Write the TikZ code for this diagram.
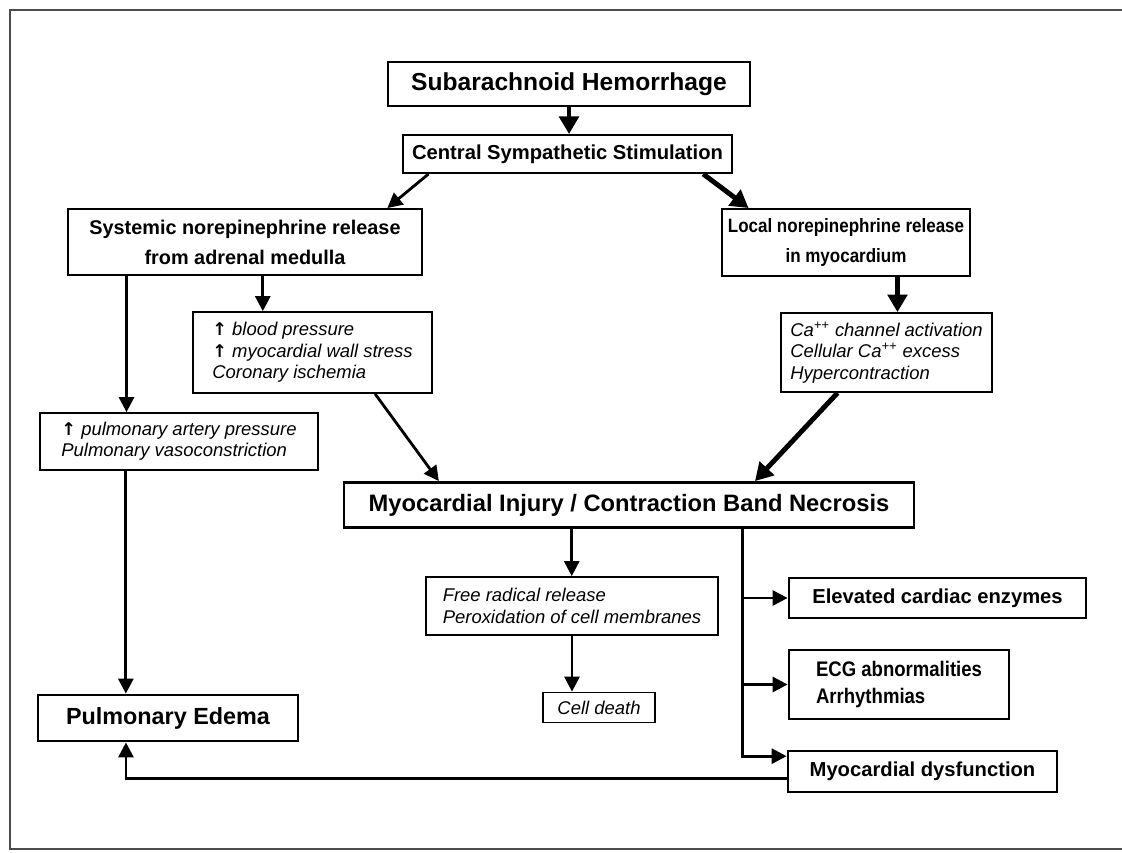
\documentclass[tikz,border=0pt]{standalone}
\usepackage{fontspec}
\setmainfont{Liberation Sans}
\newfontfamily\narrowsans{Liberation Sans}[FakeStretch=0.88]
\newfontfamily\arrowfont{DejaVu Sans}
\usepackage{tikz}
\usetikzlibrary{arrows.meta, positioning, calc}

\begin{document}
\begin{tikzpicture}[x=0.02cm, y=-0.02cm]
    % Define styles
    \tikzstyle{headbox} = [rectangle, draw, line width=1.6pt, inner sep=2pt, align=center, font=\bfseries\fontsize{13.5}{16}\selectfont]
    \tikzstyle{stepbox} = [rectangle, draw, line width=1.1pt, inner sep=2pt, align=center, font=\bfseries\fontsize{11.3}{17}\selectfont]
    \tikzstyle{effectbox} = [rectangle, draw, line width=1.6pt, inner sep=2pt, align=left, font=\bfseries\fontsize{11.5}{15}\selectfont]
    \tikzstyle{notebox} = [rectangle, draw, line width=1pt, inner sep=2pt, align=left, font=\itshape\fontsize{10.5}{12.2}\selectfont]
    \tikzstyle{arrow} = [-{Triangle[length=8.5pt, width=8.5pt]}, line width=1.6pt]
    \tikzstyle{bigarrow} = [-{Triangle[length=10pt, width=11pt]}, line width=2.8pt]
    \newcommand{\up}{{\arrowfont\upshape\bfseries\fontsize{10}{12}\selectfont ↑}}

    \useasboundingbox (0,0) rectangle (1122,852);
    \draw[black!70, line width=0.9pt] (1122,10) -- (10,10) -- (10,849) -- (1122,849);

    % Trigger
    \node[headbox, minimum width=7.24cm, minimum height=0.88cm, font=\bfseries\fontsize{14}{16}\selectfont] (sah) at (569, 84) {Subarachnoid Hemorrhage};
    \node[stepbox, minimum width=6.58cm, minimum height=0.76cm, font=\bfseries\fontsize{11.5}{14}\selectfont] (css) at (567.5, 154) {Central Sympathetic Stimulation};

    % Release
    \node[stepbox, minimum width=7.08cm, minimum height=1.32cm] (sys) at (245, 242) {Systemic norepinephrine release\\from adrenal medulla};
    \node[stepbox, minimum width=4.96cm, minimum height=1.34cm, font=\narrowsans\bfseries\fontsize{11}{17}\selectfont] (loc) at (846, 242.5) {Local norepinephrine release\\in myocardium};

    % Mechanisms
    \node[notebox, minimum width=4.78cm, minimum height=1.62cm] (bp) at (312.5, 352.5) {\up\ blood pressure\\\up\ myocardial wall stress\\Coronary ischemia};
    \node[notebox, minimum width=4.22cm, minimum height=1.58cm] (ca) at (886.5, 352.5) {Ca\textsuperscript{++} channel activation\\Cellular Ca\textsuperscript{++} excess\\Hypercontraction};
    \node[notebox, minimum width=5.56cm, minimum height=1.14cm] (pa) at (179, 441.5) {\up\ pulmonary artery pressure\\Pulmonary vasoconstriction};

    % Injury
    \node[headbox, minimum width=11.4cm, minimum height=0.9cm] (mi) at (629, 505) {Myocardial Injury / Contraction Band Necrosis};
    \node[notebox, minimum width=5.84cm, minimum height=1.16cm] (fr) at (572, 606) {Free radical release\\Peroxidation of cell membranes};
    \node[notebox, minimum width=2.24cm, minimum height=0.6cm, align=center] (cd) at (599, 707.5) {Cell death};

    % Outcomes
    \node[headbox, minimum width=5.2cm, minimum height=0.92cm, font=\bfseries\fontsize{13.3}{16}\selectfont] (pe) at (168, 718) {Pulmonary Edema};
    \node[effectbox, minimum width=5.94cm, minimum height=0.8cm] (ele) at (937.5, 598) {Elevated cardiac enzymes};
    \node[effectbox, minimum width=4.4cm, minimum height=1.38cm, font=\narrowsans\bfseries\fontsize{12}{15}\selectfont] (ecg) at (899, 684.5) {ECG abnormalities\\Arrhythmias};
    \node[effectbox, minimum width=5.38cm, minimum height=0.82cm] (dys) at (922.5, 771.5) {Myocardial dysfunction};

    % Arrows
    \draw[bigarrow] (sah.south) -- (sah.south |- css.north);
    \draw[arrow] ($(css.south west)!0.08!(css.south east)$) -- ($(sys.north west)!0.9!(sys.north east)$);
    \draw[bigarrow] ($(css.south west)!0.91!(css.south east)$) -- ($(loc.north west)!0.11!(loc.north east)$);
    \draw[arrow] ($(sys.south west)!0.55!(sys.south east)$) coordinate (sysbp) -- (sysbp |- bp.north);
    \draw[arrow] ($(sys.south west)!0.167!(sys.south east)$) coordinate (syspa) -- (syspa |- pa.north);
    \draw[arrow] ($(pa.south west)!0.31!(pa.south east)$) coordinate (pape) -- (pape |- pe.north);
    \draw[bigarrow] ($(loc.south west)!0.706!(loc.south east)$) coordinate (locca) -- (locca |- ca.north);
    \draw[arrow] ($(bp.south west)!0.76!(bp.south east)$) -- ($(mi.north west)!0.168!(mi.north east)$);
    \draw[bigarrow] ($(ca.south west)!0.27!(ca.south east)$) -- ($(mi.north west)!0.72!(mi.north east)$);
    \draw[arrow] ($(mi.south west)!0.4!(mi.south east)$) coordinate (mifr) -- (mifr |- fr.north);
    \draw[arrow] (fr.south) -- (fr.south |- cd.north);
    \coordinate (bus) at ($(mi.south west)!0.698!(mi.south east)$);
    \draw[arrow] (bus) |- ($(dys.north west)!0.15!(dys.south west)$);
    \draw[arrow] (bus |- ele.west) -- (ele.west);
    \draw[arrow] (bus |- ecg.west) -- (ecg.west);
    \draw[arrow] ($(dys.north west)!0.66!(dys.south west)$) -| ($(pe.south west)!0.34!(pe.south east)$);

\end{tikzpicture}
\end{document}
